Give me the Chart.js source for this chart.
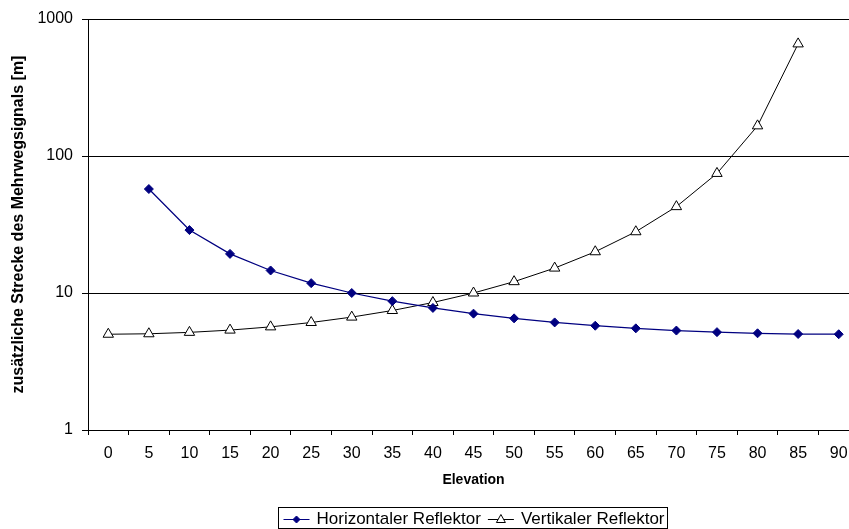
<!DOCTYPE html>
<html>
<head>
<meta charset="utf-8">
<script src="https://cdn.jsdelivr.net/npm/chart.js@4/dist/chart.umd.min.js"></script>
<style>
  html, body { margin: 0; padding: 0; background: #fff; overflow: hidden; }
</style>
</head>
<body>
<!-- etwas breiter als das Fenster: im Original ist die Zeichenfläche rechts abgeschnitten -->
<canvas id="myChart" width="866" height="529"></canvas>
<script>
// Werte
const elevation = ['0', '5', '10', '15', '20', '25', '30', '35', '40', '45', '50', '55', '60', '65', '70', '75', '80', '85', '90'];
const horizontalerReflektor = [null, 57.4, 28.8, 19.3, 14.6, 11.8, 10.0, 8.72, 7.78, 7.07, 6.53, 6.10, 5.77, 5.52, 5.32, 5.18, 5.08, 5.02, 5.00];
const vertikalerReflektor = [5.00, 5.04, 5.16, 5.36, 5.66, 6.09, 6.67, 7.45, 8.52, 10.0, 12.1, 15.2, 20.0, 28.0, 42.7, 74.6, 166, 658, null];
const yTicks = [1, 10, 100, 1000];

const FONT = "'Liberation Sans', Arial, sans-serif";

// Legende mit Rahmen, wie im Original (Linie + Marker)
const legendBox = {
  id: 'legendBox',
  afterDraw(chart) {
    const ctx = chart.ctx;
    const area = chart.chartArea;
    const sets = chart.data.datasets;
    ctx.save();
    ctx.font = '17px ' + FONT;
    const sample = 26, gapText = 7, gapItem = 7, padL = 5, padR = 3;
    let w = padL + padR;
    sets.forEach((ds, i) => {
      w += sample + gapText + ctx.measureText(ds.label).width;
      if (i < sets.length - 1) w += gapItem;
    });
    const left = Math.round((area.left + area.right) / 2 - 1 - w / 2) + 0.5;
    const top = 507.5;
    ctx.strokeStyle = '#000';
    ctx.lineWidth = 1;
    ctx.strokeRect(left, top, Math.round(w), 21);

    const y = 519.5;
    let x = left + padL;
    sets.forEach((ds) => {
      ctx.strokeStyle = ds.borderColor;
      ctx.lineWidth = 1;
      ctx.beginPath();
      ctx.moveTo(x, y);
      ctx.lineTo(x + sample, y);
      ctx.stroke();
      const cx = x + sample / 2;
      ctx.beginPath();
      if (ds.pointStyle === 'rectRot') {
        const r = 3.5;
        ctx.moveTo(cx, y - r); ctx.lineTo(cx + r, y); ctx.lineTo(cx, y + r); ctx.lineTo(cx - r, y);
      } else {
        const r = 5;
        ctx.moveTo(cx, y - r); ctx.lineTo(cx + r * 0.9, y + r * 0.6); ctx.lineTo(cx - r * 0.9, y + r * 0.6);
      }
      ctx.closePath();
      ctx.fillStyle = ds.pointBackgroundColor;
      ctx.fill();
      ctx.strokeStyle = ds.pointBorderColor;
      ctx.stroke();
      x += sample + gapText;
      ctx.fillStyle = '#000';
      ctx.textBaseline = 'middle';
      ctx.textAlign = 'left';
      ctx.fillText(ds.label, x, y);
      x += ctx.measureText(ds.label).width + gapItem;
    });
    ctx.restore();
  }
};

const ctx = document.querySelector('#myChart');

new Chart(ctx, {
  type: 'line',
  data: {
    labels: elevation,
    datasets: [
      {
        label: 'Horizontaler Reflektor',
        data: horizontalerReflektor,
        borderColor: '#000080',
        borderWidth: 1.25,
        pointStyle: 'rectRot',
        pointRadius: 4.5,
        pointBackgroundColor: '#000080',
        pointBorderColor: '#000080',
        pointBorderWidth: 1,
        tension: 0
      },
      {
        label: 'Vertikaler Reflektor',
        data: vertikalerReflektor,
        borderColor: '#000000',
        borderWidth: 1,
        pointStyle: 'triangle',
        pointRadius: 6,
        pointBackgroundColor: '#ffffff',
        pointBorderColor: '#000000',
        pointBorderWidth: 1,
        tension: 0
      }
    ]
  },
  options: {
    responsive: false,
    animation: false,
    layout: { padding: { left: 0, right: -10, top: 19, bottom: 39 } },
    plugins: {
      legend: { display: false },
      tooltip: { enabled: false }
    },
    scales: {
      x: {
        type: 'category',
        offset: true,
        grid: { offset: true, drawOnChartArea: false, color: '#000', tickLength: 5 },
        border: { color: '#000' },
        ticks: { font: { family: FONT, size: 16 }, color: '#000', padding: 9, maxRotation: 0, autoSkip: false },
        title: {
          display: true,
          text: 'Elevation',
          font: { family: FONT, size: 14, weight: 'bold' },
          color: '#000',
          padding: { top: 0, bottom: 1 }
        },
        afterFit(scale) { scale.height = 60; }
      },
      y: {
        type: 'logarithmic',
        min: 1,
        max: 1000,
        afterBuildTicks(scale) {
          scale.ticks = yTicks.map(v => ({ value: v }));
        },
        grid: { color: '#000', tickLength: 6 },
        border: { color: '#000' },
        ticks: { font: { family: FONT, size: 16 }, color: '#000', padding: 9, callback: v => String(v) },
        title: {
          display: true,
          text: 'zusätzliche Strecke des Mehrwegsignals [m]',
          font: { family: FONT, size: 16, weight: 'bold' },
          color: '#000',
          padding: { top: 9, bottom: 0 }
        },
        afterFit(scale) { scale.width = 88; }
      }
    }
  },
  plugins: [legendBox]
});
</script>
</body>
</html>
